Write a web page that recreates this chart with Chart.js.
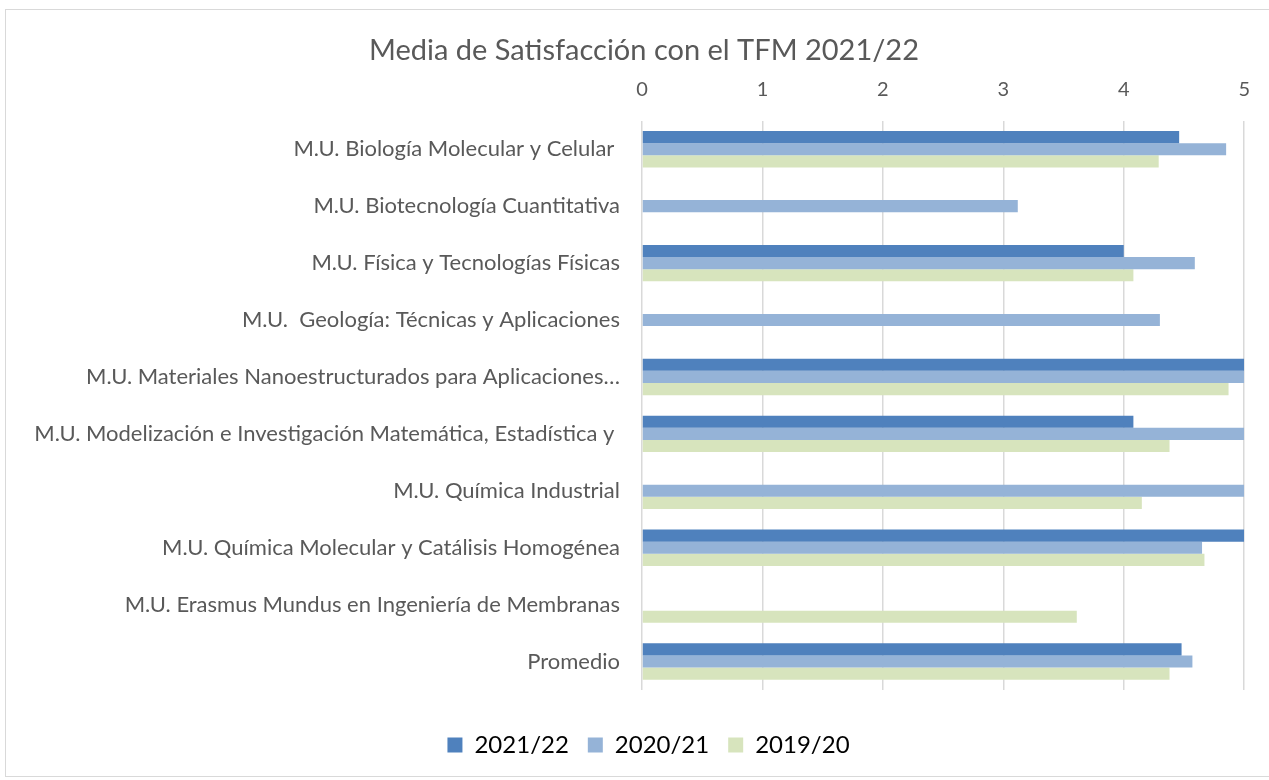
<!DOCTYPE html>
<html>
<head>
<meta charset="utf-8">
<script src="https://cdn.jsdelivr.net/npm/chart.js@4/dist/chart.umd.min.js"></script>
<style>
  body { margin: 0; background: #fff; }
  #wrap { position: relative; width: 1269px; height: 780px; }
  #frame { position: absolute; left: 5px; top: 9px; width: 1270px; height: 768px; border: 1.5px solid #d9d9d9; box-sizing: border-box; }
  canvas { position: absolute; left: 0; top: 0; }
</style>
</head>
<body>
<div id="wrap">
  <div id="frame"></div>
  <canvas id="chartTFM" width="1269" height="780"></canvas>
</div>
<script>
// Media de satisfaccion con el TFM, por master y curso
const masters = [
  "M.U. Biología Molecular y Celular ",
  "M.U. Biotecnología Cuantitativa",
  "M.U. Física y Tecnologías Físicas",
  "M.U.  Geología: Técnicas y Aplicaciones",
  "M.U. Materiales Nanoestructurados para Aplicaciones…",
  "M.U. Modelización e Investigación Matemática, Estadística y ",
  "M.U. Química Industrial",
  "M.U. Química Molecular y Catálisis Homogénea",
  "M.U. Erasmus Mundus en Ingeniería de Membranas",
  "Promedio"
];
const curso2122 = [4.46, null, 4.00, null, 5.00, 4.08, null, 5.00, null, 4.48];
const curso2021 = [4.85, 3.12, 4.59, 4.30, 5.00, 5.00, 5.00, 4.65, null, 4.57];
const curso1920 = [4.29, null, 4.08, null, 4.87, 4.38, 4.15, 4.67, 3.61, 4.38];
const xTicks = [0, 1, 2, 3, 4, 5];

// title and legend sit a bit right of the canvas centre in the original
const shiftBlocks = {
  id: "shiftBlocks",
  afterLayout(chart) {
    chart.titleBlock.left += 29;
    chart.legend.left += 19;
    chart.legend.right += 19;
  }
};

const ctx = document.getElementById("chartTFM");
let myChart = new Chart(ctx, {
  type: "bar",
  data: {
    labels: masters,
    datasets: [
      { label: "2021/22", data: curso2122, backgroundColor: "#4f81bd" },
      { label: "2020/21", data: curso2021, backgroundColor: "#95b3d7" },
      { label: "2019/20", data: curso1920, backgroundColor: "#d7e4bd" }
    ]
  },
  options: {
    indexAxis: "y",
    responsive: false,
    animation: false,
    layout: { padding: { top: 33, bottom: 13, left: 14, right: 24 } },
    datasets: {
      bar: { categoryPercentage: 0.64, barPercentage: 1.0, borderWidth: 0 }
    },
    scales: {
      x: {
        position: "top",
        min: 0,
        max: 5,
        afterBuildTicks: (scale) => { scale.ticks = xTicks.map((v) => ({ value: v })); },
        afterFit: (scale) => { scale.height = 43; },
        grid: { color: "#d9d9d9", lineWidth: 1.5, drawTicks: false },
        border: { display: false },
        ticks: { color: "#595959", font: { family: "Lato", size: 20 }, padding: 19 }
      },
      y: {
        grid: { display: false, drawTicks: false },
        border: { display: false },
        afterFit: (scale) => { scale.width = 628; },
        ticks: { color: "#595959", font: { family: "Lato", size: 22 }, padding: 22, autoSkip: false }
      }
    },
    plugins: {
      title: {
        display: true,
        text: "Media de Satisfacción con el TFM 2021/22",
        color: "#595959",
        font: { family: "Lato", size: 29, weight: "normal" },
        padding: { top: 0, bottom: 10 }
      },
      legend: {
        position: "bottom",
        title: { display: true, text: "", font: { size: 20 }, padding: 0 },
        labels: {
          color: "#000",
          font: { family: "Lato", size: 24 },
          boxWidth: 15,
          boxHeight: 15,
          padding: 19
        }
      },
      tooltip: { enabled: false }
    }
  },
  plugins: [shiftBlocks]
});
</script>
</body>
</html>
